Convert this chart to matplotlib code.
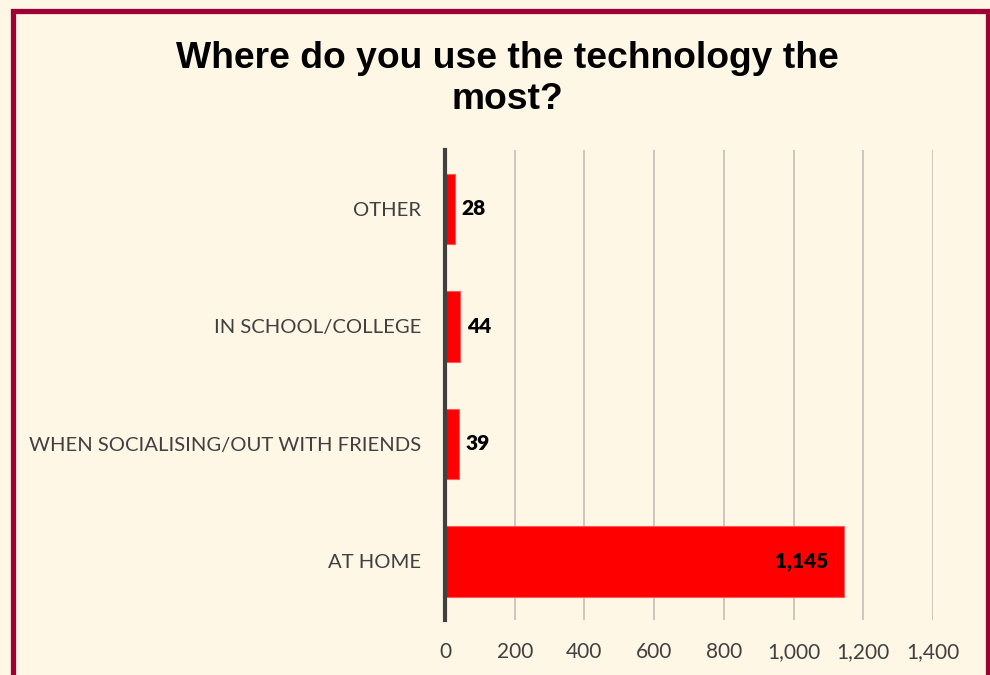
import numpy as np
import matplotlib.pyplot as plt
from matplotlib.patches import Rectangle

# Daten
categories = ["AT HOME", "WHEN SOCIALISING/OUT WITH FRIENDS", "IN SCHOOL/COLLEGE", "OTHER"]
values     = [1145, 39, 44, 28]
x_ticks    = [0, 200, 400, 600, 800, 1000, 1200, 1400]
title      = "Where do you use the technology the\nmost?"

bg      = "#FFF7E6"
red     = "#FF0000"
grey_tx = "#404040"

fig = plt.figure(figsize=(9.9, 6.75), dpi=100)
fig.patch.set_facecolor(bg)

# Rahmen
fig.patches.append(Rectangle((12.5 / 990, -0.05), 975 / 990, 1.05 - 10.5 / 675,
                             transform=fig.transFigure, fill=False,
                             edgecolor="#9E0035", linewidth=3.8))

ax = fig.add_axes([445 / 990, 1 - 620 / 675, 488 / 990, 470 / 675])
ax.set_facecolor(bg)

y = np.arange(len(categories))
bars = ax.barh(y, values, height=0.6, color=red, edgecolor="#FF5A5A", linewidth=0.8, zorder=3)

ax.set_xlim(0, 1400)
ax.set_ylim(-0.5, len(categories) - 0.5)
ax.set_xticks(x_ticks)
ax.set_xticklabels([f"{v:,}" for v in x_ticks], fontsize=15, color=grey_tx, family="Lato")
ax.set_yticks(y)
ax.set_yticklabels(categories, fontsize=14.6, color=grey_tx, family="Lato")
ax.tick_params(axis="y", length=0, pad=17)
ax.tick_params(axis="x", length=0, pad=16)

ax.grid(axis="x", color="#C9C2B8", linewidth=1.3, zorder=0)
for s in ["top", "right", "bottom"]:
    ax.spines[s].set_visible(False)
ax.spines["left"].set_color("#404040")
ax.spines["left"].set_linewidth(3)
ax.spines["left"].set_zorder(4)

# Werte
for yi, v in zip(y, values):
    if v > 500:
        ax.text(v - 45, yi, f"{v:,}", ha="right", va="center", fontsize=15,
                fontweight="heavy", family="Lato", color="black", zorder=5)
    else:
        ax.text(v + 20, yi, f"{v:,}", ha="left", va="center", fontsize=15,
                fontweight="heavy", family="Lato", color="black", zorder=5)

fig.text(507 / 990, 1 - 79 / 675, title, ha="center", va="center", fontsize=26.8,
         fontweight="bold", family="Liberation Sans", color="black", linespacing=1.25)

fig.savefig("out.png", dpi=100, facecolor=bg)
